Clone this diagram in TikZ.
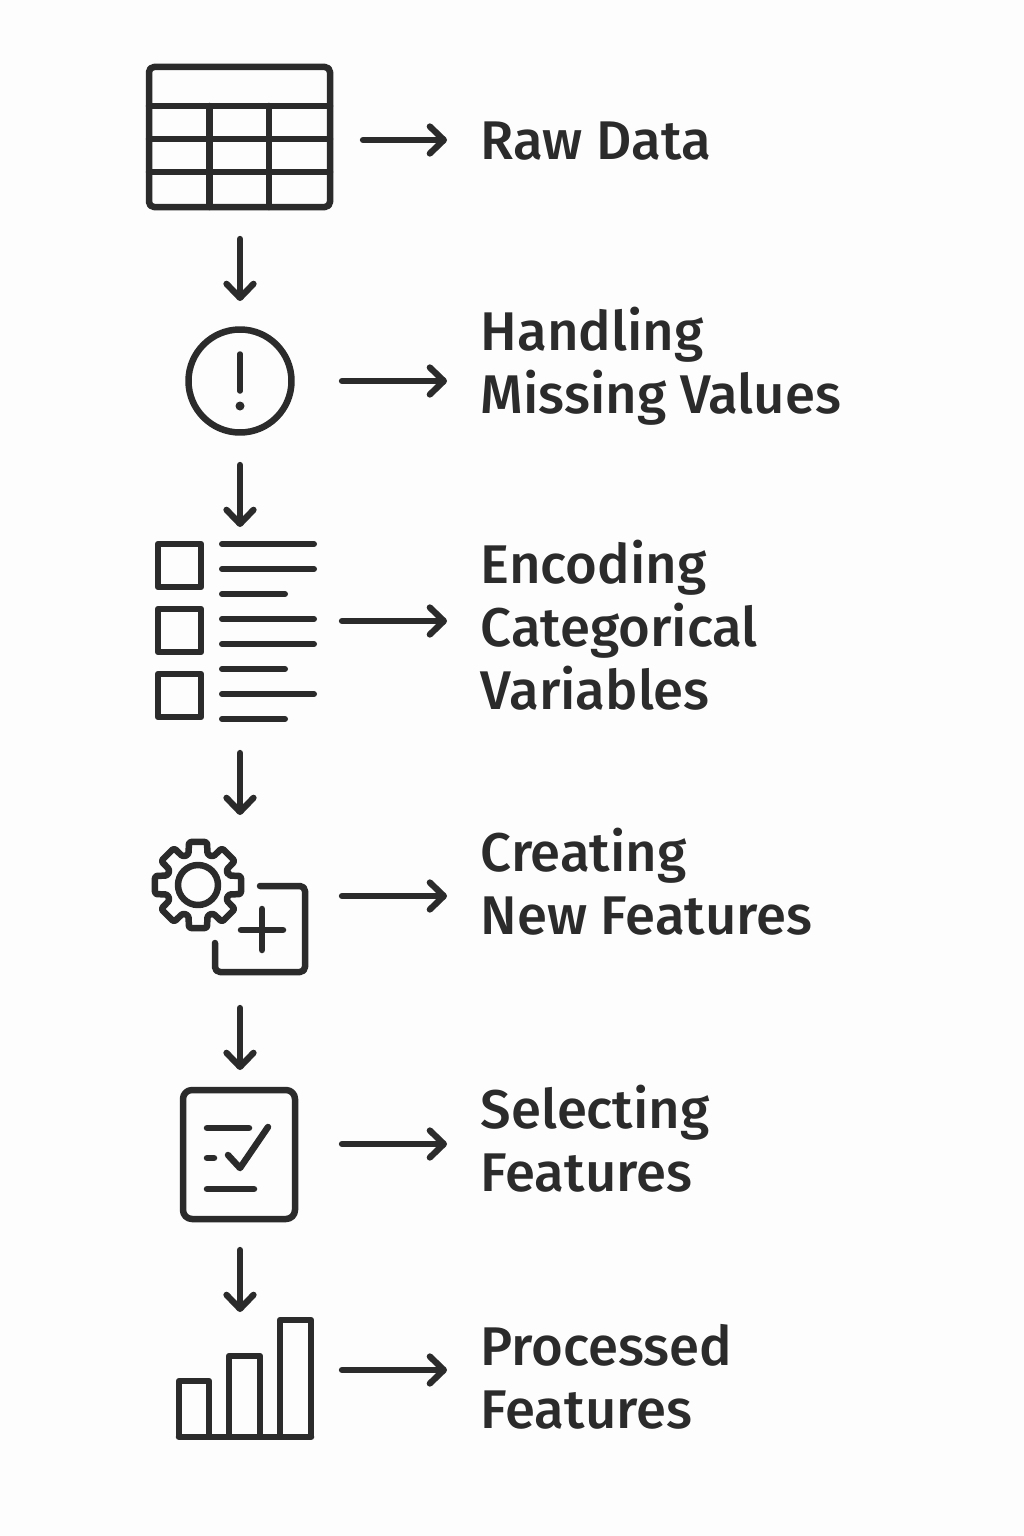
\documentclass[tikz,border=0pt]{standalone}
\usepackage{fontspec}
\setmainfont{Fira Sans Medium}
\usetikzlibrary{arrows.meta}
\definecolor{ink}{HTML}{2B2B2B}
\definecolor{paper}{HTML}{FDFDFD}
\tikzset{
  x=1pt,y=-1pt,
  icon/.style={draw=ink,line width=6.5pt,line cap=round,line join=round},
  flow/.style={draw=ink,line width=6.3pt,line cap=round,line join=round,
    -{Straight Barb[length=14pt,width=27pt,line cap=round,line join=round]}},
  label/.style={anchor=base west,align=left,inner sep=0pt,text=ink,
    font=\fontsize{54.5}{63}\selectfont},
}
\begin{document}
\begin{tikzpicture}
\useasboundingbox[fill=paper] (0,0) rectangle (1024,1536);
% table
\draw[icon,rounded corners=5pt] (149,67) rectangle (330,207);
\draw[icon] (149,106) -- (330,106) (149,139) -- (330,139) (149,172) -- (330,172)
  (209.5,106) -- (209.5,207) (269,106) -- (269,207);
% alert
\draw[icon] (240,381) circle[radius=51.5];
\draw[icon,line width=5.5pt] (240,354) -- (240,391);
\fill[ink] (240,406) circle[radius=4.5];
% checklist
\foreach \y in {544,609,674} \draw[icon,line cap=butt] (158,\y) rectangle (201,\y+43);
\foreach \y/\e in {544/314,569/314,594/285,619/314,644/314,669/285,694/314,719/285}
  \draw[icon,line width=6pt] (222,\y) -- (\e,\y);
% gear and plus
\begin{scope}[shift={(198,885)}]
\draw[icon,rounded corners=2.5pt] (-17:32)
  \foreach \a in {0,45,...,315} { -- (\a-17:32) -- (\a-12:44) -- (\a+12:44) -- (\a+17:32) } -- cycle;
\draw[icon] (0,0) circle[radius=20];
\end{scope}
\draw[icon,rounded corners=5pt] (260,886) -- (305,886) -- (305,972) -- (215,972) -- (215,943);
\draw[icon] (241,930) -- (283,930) (262,909) -- (262,950);
% checked card
\draw[icon,rounded corners=9pt] (183,1090) rectangle (295,1219);
\draw[icon] (207,1128) -- (249,1128) (207,1158) -- (214,1158) (207,1189) -- (254,1189);
\draw[icon] (228,1155) -- (240,1168) -- (268,1127);
% bars
\draw[icon,line cap=butt] (179,1437) -- (179,1381) -- (209,1381) -- (209,1437)
  (229,1437) -- (229,1356) -- (260,1356) -- (260,1437)
  (280,1437) -- (280,1320) -- (311,1320) -- (311,1437);
\draw[icon] (179,1437) -- (311,1437);
% connector ends
\coordinate (r1s) at (363,140); \coordinate (r1e) at (447,140);
\coordinate (r2s) at (342,381); \coordinate (r2e) at (447,381);
\coordinate (r3s) at (342,621); \coordinate (r3e) at (447,621);
\coordinate (r4s) at (342,896); \coordinate (r4e) at (447,896);
\coordinate (r5s) at (342,1144); \coordinate (r5e) at (447,1144);
\coordinate (r6s) at (342,1370); \coordinate (r6e) at (447,1370);
\coordinate (d1s) at (240,239); \coordinate (d1e) at (240,301);
\coordinate (d2s) at (240,465); \coordinate (d2e) at (240,527);
\coordinate (d3s) at (240,753); \coordinate (d3e) at (240,815);
\coordinate (d4s) at (240,1008); \coordinate (d4e) at (240,1070);
\coordinate (d5s) at (240,1250); \coordinate (d5e) at (240,1312);
\foreach \n in {r1,r2,r3,r4,r5,r6,d1,d2,d3,d4,d5} \draw[flow] (\n s) -- (\n e);
% labels
\node[label] (t1) at (480.5,160) {Raw Data};
\node[label] (t2) at (480.5,413.5) {Handling\\Missing Values};
\node[label] (t3) at (480.5,709.5) {Encoding\\Categorical\\Variables};
\node[label] (t4) at (480.5,934.5) {Creating\\New Features};
\node[label] (t5) at (480.5,1191.5) {Selecting\\Features};
\node[label] (t6) at (480.5,1428.5) {Processed\\Features};
\end{tikzpicture}
\end{document}
